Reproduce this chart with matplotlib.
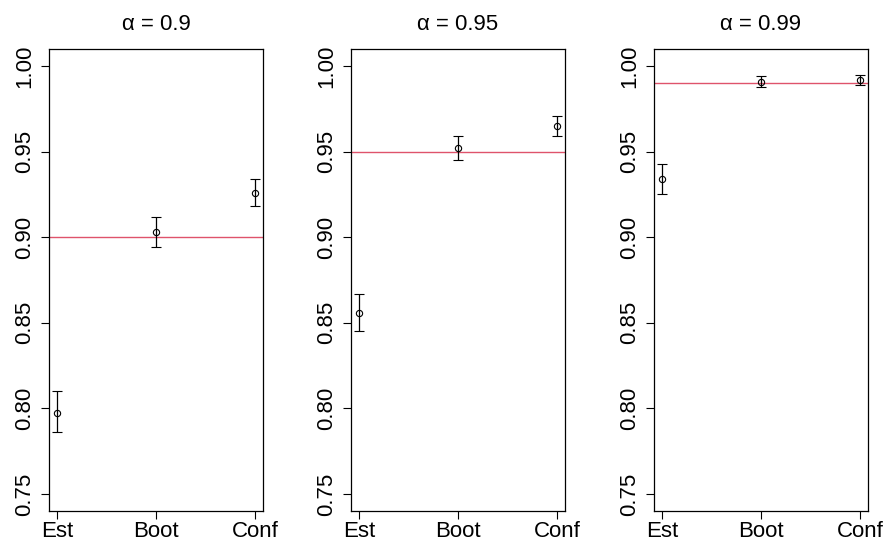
import matplotlib
matplotlib.use("Agg")
import matplotlib.pyplot as plt

plt.rcParams['font.family'] = ['Liberation Sans', 'DejaVu Sans']

methods = ["Est", "Boot", "Conf"]
alphas = [0.9, 0.95, 0.99]
titles = ["α = 0.9", "α = 0.95", "α = 0.99"]
# coverage estimates per panel (Est, Boot, Conf)
cov_090 = [0.797, 0.903, 0.926]
low_090 = [0.786, 0.894, 0.918]
high_090 = [0.810, 0.912, 0.934]
cov_095 = [0.856, 0.952, 0.965]
low_095 = [0.845, 0.945, 0.959]
high_095 = [0.867, 0.959, 0.971]
cov_099 = [0.934, 0.991, 0.992]
low_099 = [0.925, 0.988, 0.989]
high_099 = [0.943, 0.994, 0.995]

covs = [cov_090, cov_095, cov_099]
lows = [low_090, low_095, low_099]
highs = [high_090, high_095, high_099]
yticks = [0.75, 0.80, 0.85, 0.90, 0.95, 1.00]

W, H = 887, 545
fig = plt.figure(figsize=(W / 100, H / 100), dpi=100)
lefts = [49, 351, 654]
aw = 214
top, bottom = 49, 511

x = [1, 2, 3]
for i in range(3):
    ax = fig.add_axes([lefts[i] / W, 1 - bottom / H, aw / W, (bottom - top) / H])
    ax.set_xlim(1 - 0.08, 3 + 0.08)
    ax.set_ylim(0.75 - 0.01, 1.0 + 0.01)
    ax.axhline(alphas[i], color='#DF536B', lw=1.0, zorder=1)
    yerr = [[c - l for c, l in zip(covs[i], lows[i])],
            [h - c for c, h in zip(covs[i], highs[i])]]
    ax.errorbar(x, covs[i], yerr=yerr, fmt='o', mfc='none', mec='black',
                ms=4.5, mew=0.8, ecolor='black', elinewidth=0.9,
                capsize=3.5, capthick=0.9, zorder=3)
    ax.set_xticks(x)
    ax.set_xticklabels(methods, fontsize=16)
    ax.set_yticks(yticks)
    ax.set_yticklabels([f"{v:.2f}" for v in yticks], fontsize=16,
                       rotation=90, va='center')
    ax.tick_params(axis='both', direction='out', length=6, width=0.8, color='black')
    ax.tick_params(axis='y', pad=4)
    ax.tick_params(axis='x', pad=1)
    for s in ax.spines.values():
        s.set_linewidth(0.9)
    ax.set_title(titles[i], fontsize=16, pad=14)

fig.savefig("out.png", dpi=100)
